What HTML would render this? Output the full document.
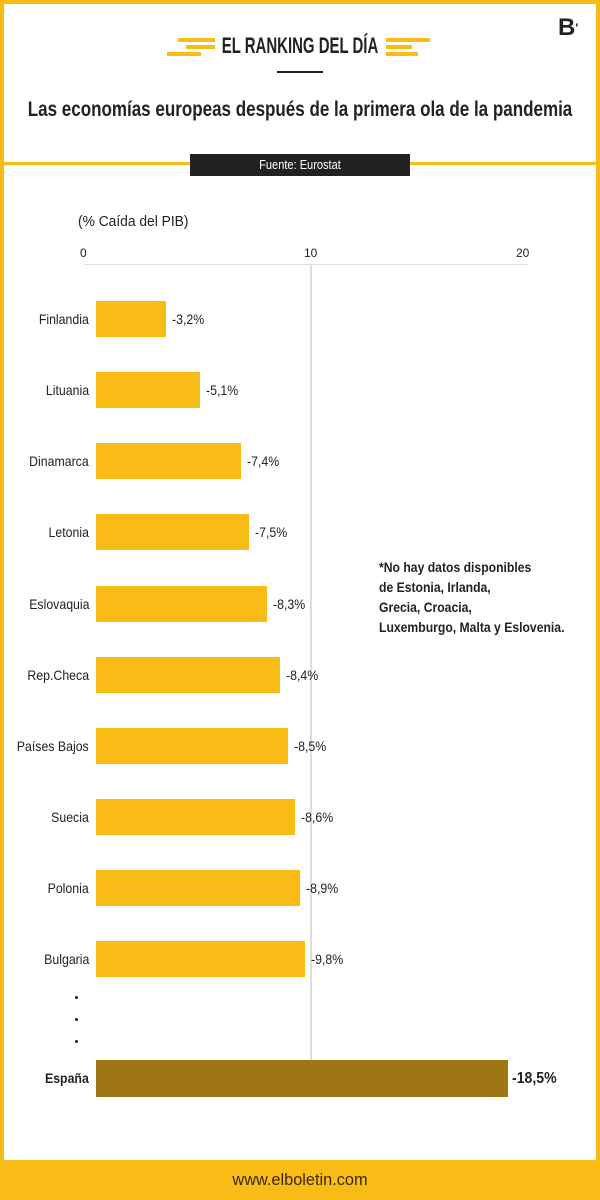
<!DOCTYPE html>
<html><head><meta charset="utf-8"><style>
*{margin:0;padding:0;box-sizing:border-box}
body{width:600px;height:1200px;position:relative;background:#fff;overflow:hidden;font-family:"Liberation Sans",sans-serif;color:#222}
.a{position:absolute}
.n{display:inline-block;white-space:nowrap;transform:scaleX(.88)}
.bar{position:absolute;left:96px;height:36px;background:#f9bb16}
.lab{position:absolute;right:511px;font-size:14px;line-height:36px;text-align:right;white-space:nowrap}
.lab .n{transform-origin:right center}
.val{position:absolute;font-size:14px;line-height:36px;white-space:nowrap}
.val .n,.l .n{transform-origin:left center}
.ct{position:absolute;left:300px;white-space:nowrap}
</style></head><body>
<div class="a" style="left:0;top:0;width:600px;height:4px;background:#f9bb16"></div>
<div class="a" style="left:0;top:0;width:4px;height:1200px;background:#f9bb16"></div>
<div class="a" style="right:0;top:0;width:4px;height:1200px;background:#f9bb16"></div>
<div class="a" style="left:0;top:162px;width:600px;height:3px;background:#f9bb16"></div>
<div class="a" style="left:0;top:1160px;width:600px;height:40px;background:#f9bb16"></div>
<div class="ct" style="top:1160px;font-size:17px;line-height:40px;color:#3a2a10;transform:translateX(-50%) scaleX(.96)">www.elboletin.com</div>
<div class="a" style="left:178px;top:38px;width:37px;height:4px;background:#f9bb16"></div>
<div class="a" style="left:186px;top:45px;width:29px;height:4px;background:#f9bb16"></div>
<div class="a" style="left:167px;top:52px;width:34px;height:4px;background:#f9bb16"></div>
<div class="a" style="left:386px;top:38px;width:44px;height:4px;background:#f9bb16"></div>
<div class="a" style="left:386px;top:45px;width:26px;height:4px;background:#f9bb16"></div>
<div class="a" style="left:386px;top:52px;width:32px;height:4px;background:#f9bb16"></div>
<div class="ct" style="top:32px;font-size:22px;font-weight:bold;line-height:28px;transform:translateX(-50%) scaleX(.68)">EL RANKING DEL DÍA</div>
<div class="a" style="left:277px;top:71px;width:46px;height:2px;background:#222"></div>
<div class="ct" style="top:96px;font-size:21px;font-weight:bold;line-height:28px;transform:translateX(-50%) scaleX(.81)">Las economías europeas después de la primera ola de la pandemia</div>
<div class="a" style="left:558px;top:14px;font-size:24px;font-weight:bold;line-height:28px">B<span style="font-size:12px;vertical-align:top">'</span></div>
<div class="a" style="left:190px;top:154px;width:220px;height:22px;background:#222"></div>
<div class="ct" style="top:154px;color:#fff;font-size:13px;line-height:22px;transform:translateX(-50%) scaleX(.85)">Fuente: Eurostat</div>
<div class="a l" style="left:78px;top:213px;font-size:15px"><span class="n" style="transform:scaleX(.92)">(% Caída del PIB)</span></div>
<div class="a" style="left:80px;top:246px;font-size:12px">0</div>
<div class="a" style="left:304px;top:246px;font-size:12px">10</div>
<div class="a" style="left:516px;top:246px;font-size:12px">20</div>
<div class="a" style="left:84px;top:264px;width:444px;height:1px;background:#ddd"></div>
<div class="a" style="left:310px;top:264px;width:2px;height:796px;background:#ddd"></div>

<div class="bar" style="top:301px;width:70px"></div><div class="lab" style="top:301px"><span class="n">Finlandia</span></div><div class="val" style="top:301px;left:172px"><span class="n">-3,2%</span></div>
<div class="bar" style="top:372px;width:104px"></div><div class="lab" style="top:372px"><span class="n">Lituania</span></div><div class="val" style="top:372px;left:206px"><span class="n">-5,1%</span></div>
<div class="bar" style="top:443px;width:145px"></div><div class="lab" style="top:443px"><span class="n">Dinamarca</span></div><div class="val" style="top:443px;left:247px"><span class="n">-7,4%</span></div>
<div class="bar" style="top:514px;width:153px"></div><div class="lab" style="top:514px"><span class="n">Letonia</span></div><div class="val" style="top:514px;left:255px"><span class="n">-7,5%</span></div>
<div class="bar" style="top:586px;width:171px"></div><div class="lab" style="top:586px"><span class="n">Eslovaquia</span></div><div class="val" style="top:586px;left:273px"><span class="n">-8,3%</span></div>
<div class="bar" style="top:657px;width:184px"></div><div class="lab" style="top:657px"><span class="n">Rep.Checa</span></div><div class="val" style="top:657px;left:286px"><span class="n">-8,4%</span></div>
<div class="bar" style="top:728px;width:192px"></div><div class="lab" style="top:728px"><span class="n">Países Bajos</span></div><div class="val" style="top:728px;left:294px"><span class="n">-8,5%</span></div>
<div class="bar" style="top:799px;width:199px"></div><div class="lab" style="top:799px"><span class="n">Suecia</span></div><div class="val" style="top:799px;left:301px"><span class="n">-8,6%</span></div>
<div class="bar" style="top:870px;width:204px"></div><div class="lab" style="top:870px"><span class="n">Polonia</span></div><div class="val" style="top:870px;left:306px"><span class="n">-8,9%</span></div>
<div class="bar" style="top:941px;width:209px"></div><div class="lab" style="top:941px"><span class="n">Bulgaria</span></div><div class="val" style="top:941px;left:311px"><span class="n">-9,8%</span></div>
<div class="a" style="left:75px;top:996px;width:3px;height:3px;background:#222;border-radius:50%"></div>
<div class="a" style="left:75px;top:1018px;width:3px;height:3px;background:#222;border-radius:50%"></div>
<div class="a" style="left:75px;top:1040px;width:3px;height:3px;background:#222;border-radius:50%"></div>
<div class="bar" style="top:1060px;height:37px;width:412px;background:#a07614"></div>
<div class="lab" style="top:1060px;line-height:37px;font-weight:bold"><span class="n">España</span></div>
<div class="val" style="top:1060px;line-height:37px;left:512px;font-weight:bold;font-size:16px"><span class="n">-18,5%</span></div>
<div class="a l" style="left:379px;top:557px;font-size:14px;font-weight:bold;line-height:20px"><span class="n" style="transform:scaleX(.87)">*No hay datos disponibles<br>de Estonia, Irlanda,<br>Grecia, Croacia,<br>Luxemburgo, Malta y Eslovenia.</span></div>
</body></html>
